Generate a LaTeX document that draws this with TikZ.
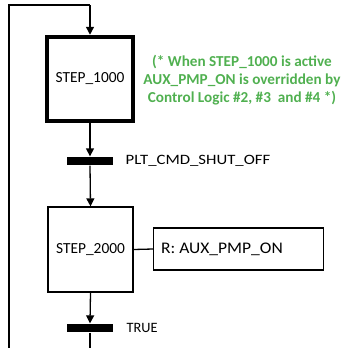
\documentclass[tikz,border=0pt]{standalone}
\usepackage{graphicx}
\usepackage{fontspec}
\setmainfont{Carlito}
\usetikzlibrary{arrows.meta}
\definecolor{notegreen}{RGB}{80,176,80}
\begin{document}
\begin{tikzpicture}[x=1pt,y=-1pt,
  line width=1.3pt,
  arr/.style={-{Triangle[width=8pt,length=8pt]}},
  stepbox/.style={draw,minimum width=#1,minimum height=85pt,inner sep=0pt,font=\fontsize{15.4}{17}\selectfont},
  bar/.style={fill=black,minimum width=46pt,minimum height=8pt,inner sep=0pt},
  lbl/.style={anchor=west,font=\fontsize{14.3}{16}\selectfont,inner sep=0pt}]
\useasboundingbox (0,0) rectangle (342,348);
\node[stepbox=86pt,line width=4.5pt,minimum height=84pt] (s1) at (90,79) {STEP\_1000};
\node[bar] (t1) at (90,161) {};
\node[lbl] (l1) at (125,161) {\scalebox{1.17}[1]{PLT\_CMD\_SHUT\_OFF}};
\node[stepbox=85pt] (s2) at (90.5,249.5) {STEP\_2000};
\node[draw,minimum width=170pt,minimum height=42pt,inner sep=0pt,anchor=west] (act) at (153,249) {};
\node[anchor=west,inner sep=0pt,font=\fontsize{16.2}{18}\selectfont] (acttext) at (160.5,249) {\scalebox{1.08}[1]{R: AUX\_PMP\_ON}};
\node[bar] (t2) at (90,328) {};
\node[lbl] (l2) at (126,328) {TRUE};
\node[font=\bfseries\fontsize{15.2}{18}\selectfont,text=notegreen,align=center] (note) at (242,80)
  {(* When STEP\_1000 is active\\AUX\_PMP\_ON is overridden by\\Control Logic \#2, \#3\ \ and \#4 *)};
\coordinate (tl) at (9,5);
\coordinate (tc) at (90,5);
\coordinate (bl) at (9,352);
\coordinate (bc) at (90,352);
\draw[arr] (tc) -- (s1.north);
\draw[arr] (s1.south) -- (t1.north);
\draw[arr] (t1.south) -- (s2.north);
\draw (s2.east) -- (act.west);
\draw[arr] (s2.south) -- (t2.north);
\draw (t2.south) -- (bc) -- (bl) -- (tl) -- (tc);
\end{tikzpicture}
\end{document}
